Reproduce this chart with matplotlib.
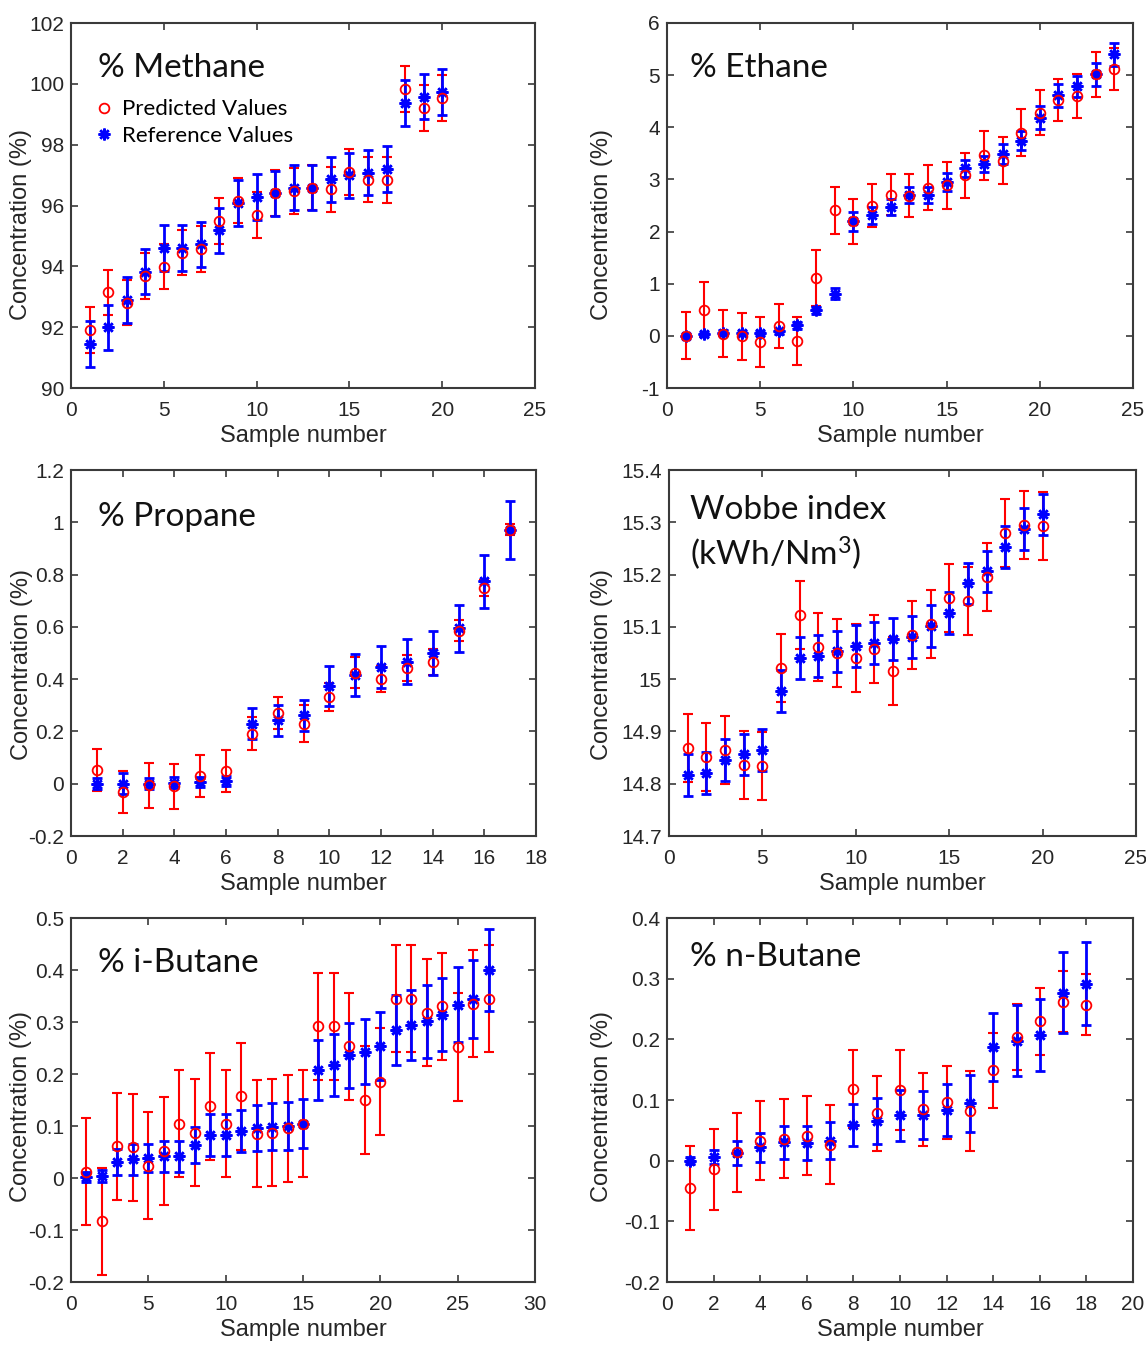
import numpy as np
import matplotlib as mpl
import matplotlib.pyplot as plt
from matplotlib.lines import Line2D
from matplotlib.ticker import FuncFormatter

mpl.rcParams['font.family'] = ['Liberation Sans', 'DejaVu Sans']
mpl.rcParams['mathtext.fontset'] = 'custom'
mpl.rcParams['mathtext.rm'] = 'Lato'

# ---- data ----
methane_pred = [91.91, 93.14, 92.81, 93.69, 93.99, 94.45, 94.56, 95.49, 96.16, 95.68,
                96.42, 96.48, 96.59, 96.53, 97.10, 96.85, 96.84, 99.82, 99.20, 99.53]
methane_ref = [91.44, 91.99, 92.89, 93.83, 94.60, 94.60, 94.72, 95.18, 96.09, 96.27,
               96.40, 96.59, 96.59, 96.86, 96.99, 97.08, 97.19, 99.38, 99.58, 99.74]
methane_pred_err = 0.75
methane_ref_err = 0.75

ethane_pred = [0.00, 0.50, 0.04, -0.01, -0.12, 0.19, -0.10, 1.11, 2.41, 2.20, 2.50, 2.71,
               2.69, 2.84, 2.89, 3.08, 3.46, 3.36, 3.90, 4.28, 4.53, 4.60, 5.02, 5.12]
ethane_ref = [0.00, 0.04, 0.06, 0.06, 0.06, 0.09, 0.20, 0.49, 0.81, 2.20, 2.31, 2.47,
              2.70, 2.70, 2.95, 3.21, 3.30, 3.48, 3.74, 4.18, 4.61, 4.79, 5.02, 5.40]
ethane_pred_err = [0.45, 0.53, 0.45, 0.45, 0.48, 0.43, 0.46, 0.54, 0.45, 0.43, 0.42, 0.40,
                   0.42, 0.43, 0.45, 0.43, 0.47, 0.45, 0.45, 0.43, 0.40, 0.43, 0.43, 0.40]
ethane_ref_err = [0.03, 0.04, 0.05, 0.04, 0.04, 0.05, 0.07, 0.07, 0.10, 0.18, 0.17, 0.15,
                  0.15, 0.15, 0.17, 0.17, 0.15, 0.19, 0.18, 0.22, 0.22, 0.20, 0.22, 0.22]

propane_pred = [0.054, -0.032, -0.006, -0.010, 0.028, 0.049, 0.192, 0.271, 0.230, 0.332,
                0.425, 0.400, 0.441, 0.467, 0.586, 0.748, 0.972]
propane_ref = [0.000, 0.000, 0.000, 0.004, 0.006, 0.010, 0.230, 0.243, 0.262, 0.375,
               0.416, 0.448, 0.467, 0.499, 0.595, 0.774, 0.970]
propane_pred_err = [0.080, 0.080, 0.085, 0.085, 0.080, 0.080, 0.064, 0.060, 0.070, 0.055,
                    0.060, 0.050, 0.050, 0.050, 0.040, 0.030, 0.020]
propane_ref_err = [0.020, 0.040, 0.020, 0.020, 0.020, 0.020, 0.060, 0.060, 0.060, 0.076,
                   0.080, 0.080, 0.085, 0.085, 0.090, 0.100, 0.110]

wobbe_pred = [14.869, 14.852, 14.864, 14.836, 14.833, 15.022, 15.123, 15.062, 15.050, 15.041,
              15.057, 15.015, 15.085, 15.106, 15.155, 15.150, 15.195, 15.279, 15.295, 15.292]
wobbe_ref = [14.817, 14.821, 14.845, 14.856, 14.865, 14.978, 15.040, 15.045, 15.053, 15.064,
             15.069, 15.076, 15.080, 15.101, 15.127, 15.183, 15.206, 15.253, 15.287, 15.315]
wobbe_pred_err = 0.065
wobbe_ref_err = 0.04

ibutane_pred = [0.012, -0.083, 0.061, 0.059, 0.024, 0.052, 0.104, 0.087, 0.138, 0.104,
                0.157, 0.085, 0.087, 0.096, 0.104, 0.292, 0.292, 0.253, 0.150, 0.185,
                0.345, 0.345, 0.318, 0.330, 0.252, 0.335, 0.345]
ibutane_ref = [0.002, 0.004, 0.031, 0.036, 0.039, 0.042, 0.042, 0.064, 0.083, 0.083,
               0.090, 0.096, 0.099, 0.100, 0.104, 0.208, 0.217, 0.236, 0.243, 0.254,
               0.284, 0.294, 0.301, 0.314, 0.333, 0.345, 0.400]
ibutane_pred_err = 0.103
ibutane_ref_err = [0.010, 0.012, 0.025, 0.030, 0.027, 0.030, 0.030, 0.035, 0.040, 0.040,
                   0.040, 0.045, 0.045, 0.047, 0.047, 0.058, 0.060, 0.062, 0.062, 0.065,
                   0.067, 0.068, 0.070, 0.070, 0.072, 0.075, 0.078]

nbutane_pred = [-0.045, -0.014, 0.014, 0.033, 0.036, 0.041, 0.026, 0.118, 0.078, 0.116,
                0.085, 0.096, 0.082, 0.149, 0.204, 0.230, 0.262, 0.257]
nbutane_ref = [0.000, 0.006, 0.013, 0.022, 0.030, 0.029, 0.033, 0.059, 0.066, 0.075,
               0.075, 0.084, 0.095, 0.187, 0.198, 0.207, 0.277, 0.292]
nbutane_pred_err = [0.070, 0.067, 0.065, 0.065, 0.065, 0.065, 0.065, 0.064, 0.062, 0.066,
                    0.060, 0.060, 0.066, 0.062, 0.054, 0.055, 0.050, 0.050]
nbutane_ref_err = [0.006, 0.012, 0.020, 0.024, 0.027, 0.028, 0.030, 0.035, 0.038, 0.042,
                   0.040, 0.043, 0.047, 0.056, 0.058, 0.060, 0.067, 0.069]

W, H = 1146, 1345
fig = plt.figure(figsize=(W / 100, H / 100), dpi=100)


def px_axes(l, t, r, b):
    return fig.add_axes([l / W, 1 - b / H, (r - l) / W, (b - t) / H])


panels = [
    # (pixel box, pred, ref, pred err, ref err, xlim, xstep, ylim, yticks, title, title pos, ylabel px offset, ylabel centre)
    ((71, 23, 535, 388), methane_pred, methane_ref, methane_pred_err, methane_ref_err,
     (0, 25), 5, (90, 102), np.arange(90, 102.1, 2), '% Methane', (0.058, 0.877), -39, 225),
    ((667, 23, 1133, 388), ethane_pred, ethane_ref, ethane_pred_err, ethane_ref_err,
     (0, 25), 5, (-1, 6), np.arange(-1, 6.1, 1), '% Ethane', (0.049, 0.877), -54, 225),
    ((71, 470, 536, 836), propane_pred, propane_ref, propane_pred_err, propane_ref_err,
     (0, 18), 2, (-0.2, 1.2), np.arange(-0.2, 1.21, 0.2), '% Propane', (0.058, 0.872), -38, 665),
    ((669, 470, 1136, 836), wobbe_pred, wobbe_ref, wobbe_pred_err, wobbe_ref_err,
     (0, 25), 5, (14.7, 15.4), np.arange(14.7, 15.41, 0.1),
     'Wobbe index\n(kWh/Nm$\\mathregular{^3}$)', (0.045, 0.826), -56, 665),
    ((71, 918, 535, 1282), ibutane_pred, ibutane_ref, ibutane_pred_err, ibutane_ref_err,
     (0, 30), 5, (-0.2, 0.5), np.arange(-0.2, 0.51, 0.1), '% i-Butane', (0.058, 0.876), -39, 1107),
    ((667, 918, 1133, 1282), nbutane_pred, nbutane_ref, nbutane_pred_err, nbutane_ref_err,
     (0, 20), 2, (-0.2, 0.4), np.arange(-0.2, 0.41, 0.1), '% n-Butane', (0.049, 0.893), -54, 1107),
]

star = (8, 2, 0)
fmt = FuncFormatter(lambda v, p: '%g' % round(v, 6))

for i, (box, pred, ref, perr, rerr, xlim, xstep, ylim, yticks, title, tpos,
        lab_dx, lab_cy) in enumerate(panels):
    ax = px_axes(*box)
    x = np.arange(1, len(pred) + 1)
    ax.errorbar(x, pred, yerr=perr, fmt='none', ecolor='#ff0000',
                elinewidth=1.5, capsize=3.5, capthick=1.5, zorder=2)
    ax.errorbar(x, ref, yerr=rerr, fmt='none', ecolor='#0000ff', elinewidth=2,
                capsize=3.5, capthick=2, zorder=3)
    ax.plot(x, ref, ls='none', marker=star, color='#0000ff', ms=8.5, mew=1.8, zorder=4)
    ax.plot(x, pred, ls='none', marker='o', color='#ff0000', mfc='none', ms=7, mew=1.3, zorder=5)

    ax.set_xlim(*xlim)
    ax.set_ylim(*ylim)
    ax.set_xticks(np.arange(xlim[0], xlim[1] + 0.1, xstep))
    ax.set_yticks(yticks)
    ax.xaxis.set_major_formatter(fmt)
    ax.yaxis.set_major_formatter(fmt)
    ax.tick_params(direction='in', length=5, width=1.2, top=True, right=True,
                   labelsize=15, colors='#3a3a3a', labelcolor='#262626')
    ax.tick_params(axis='x', pad=9)
    ax.tick_params(axis='y', pad=5)
    for s in ax.spines.values():
        s.set_color('#3a3a3a')
        s.set_linewidth(1.5)
    ax.set_xlabel('Sample number', fontsize=17, color='#262626', labelpad=4)
    ax.set_ylabel('Concentration (%)', fontsize=17, color='#262626')
    bw = box[2] - box[0]
    bh = box[3] - box[1]
    ax.yaxis.set_label_coords(lab_dx / bw, (box[3] - lab_cy) / bh)
    ax.text(tpos[0], tpos[1], title, transform=ax.transAxes, fontsize=24,
            family=['Lato', 'DejaVu Sans'], va='center', ha='left', color='#111111',
            linespacing=1.28)

    if i == 0:
        handles = [Line2D([], [], ls='none', marker='o', color='#ff0000', mfc='none', ms=7, mew=1.3),
                   Line2D([], [], ls='none', marker=star, color='#0000ff', ms=8.5, mew=1.8)]
        ax.legend(handles, ['Predicted Values', 'Reference Values'], loc='upper left',
                  bbox_to_anchor=(0.03, 0.815), frameon=False, handlelength=0.9,
                  handletextpad=0.35, labelspacing=0.3, borderaxespad=0,
                  prop={'family': ['Lato', 'DejaVu Sans'], 'size': 16})

fig.savefig('out.png', dpi=100)
